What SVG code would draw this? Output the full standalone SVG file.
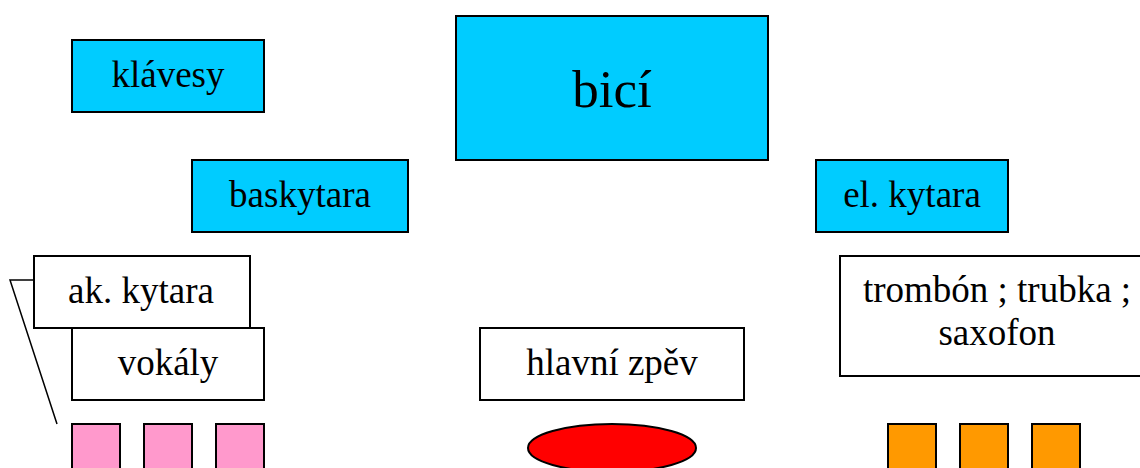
<svg xmlns="http://www.w3.org/2000/svg" width="1140" height="468" viewBox="0 0 1140 468">
<style>
.box{stroke:#000;stroke-width:2}
.cyan{fill:#00CCFF}
.white{fill:#FFFFFF}
.pink{fill:#FF99CC}
.orange{fill:#FF9900}
.red{fill:#FF0000}
.lbl{font-size:37px;fill:#000;text-anchor:middle}
.big{font-size:53px}
.conn{fill:none;stroke:#000;stroke-width:1.5}
</style>
<rect width="1140" height="468" fill="#fff"/>
<g id="connectors">
<polyline class="conn" points="34,280 10,280 57,424"/>
</g>
<g font-family="'Liberation Serif', 'Times New Roman', Tinos, 'DejaVu Serif', serif">
<g id="klavesy"><rect class="box cyan" x="72" y="40" width="192" height="72"/><text class="lbl" x="168" y="87">klávesy</text></g>
<g id="bici"><rect class="box cyan" x="456" y="16" width="312" height="144"/><text class="lbl big" x="612" y="107">bicí</text></g>
<g id="baskytara"><rect class="box cyan" x="192" y="160" width="216" height="72"/><text class="lbl" x="300" y="207">baskytara</text></g>
<g id="el-kytara"><rect class="box cyan" x="816" y="160" width="192" height="72"/><text class="lbl" x="912" y="207">el. kytara</text></g>
<g id="ak-kytara"><rect class="box white" x="34" y="256" width="216" height="72"/><text class="lbl" x="141" y="303">ak. kytara</text></g>
<g id="vokaly"><rect class="box white" x="72" y="328" width="192" height="72"/><text class="lbl" x="168" y="375">vokály</text></g>
<g id="hlavni-zpev"><rect class="box white" x="480" y="328" width="264" height="72"/><text class="lbl" x="612" y="375">hlavní zpěv</text></g>
<g id="dechy"><rect class="box white" x="840" y="256" width="312" height="120"/><text class="lbl" x="997" y="302">trombón ; trubka ;</text><text class="lbl" x="997" y="345">saxofon</text></g>
</g>
<g id="vokaly-pos">
<rect class="box pink" x="72" y="424" width="48" height="60"/>
<rect class="box pink" x="144" y="424" width="48" height="60"/>
<rect class="box pink" x="216" y="424" width="48" height="60"/>
</g>
<g id="zpevak-pos"><ellipse class="box red" cx="612" cy="448" rx="84" ry="24"/></g>
<g id="dechy-pos">
<rect class="box orange" x="888" y="424" width="48" height="60"/>
<rect class="box orange" x="960" y="424" width="48" height="60"/>
<rect class="box orange" x="1032" y="424" width="48" height="60"/>
</g>
</svg>
